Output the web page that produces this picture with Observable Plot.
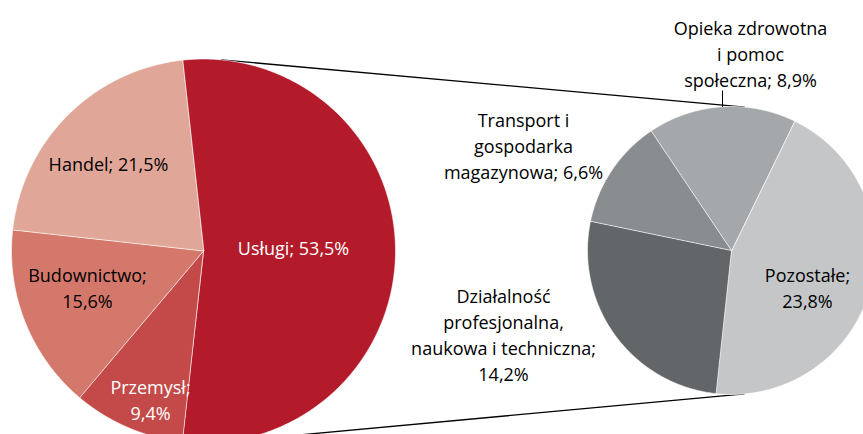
<!DOCTYPE html>
<html>
<head>
<meta charset="utf-8">
<script src="https://cdn.jsdelivr.net/npm/d3@7"></script>
<script src="https://cdn.jsdelivr.net/npm/@observablehq/plot@0.6"></script>
<style>
  html, body { margin: 0; padding: 0; background: #fff; }
  #chart { width: 863px; height: 434px; overflow: hidden; }
</style>
</head>
<body>
<div id="chart"></div>
<script>
// ---- DATA ----
const mainCategories = ["Usługi", "Przemysł", "Budownictwo", "Handel"];
const mainValues = [53.5, 9.4, 15.6, 21.5];
const mainColors = ["#B31B2B", "#C34A48", "#D4786C", "#E0A698"];

const subCategories = ["Pozostałe", "Działalność profesjonalna, naukowa i techniczna", "Transport i gospodarka magazynowa", "Opieka zdrowotna i pomoc społeczna"];
const subValues = [23.8, 14.2, 6.6, 8.9];
const subColors = ["#C4C6C8", "#626669", "#8A8D8F", "#A5A8AA"];

// label text layout (line breaks) for each category
const mainLabelLines = [["Usługi; {v}"], ["Przemysł;", "{v}"], ["Budownictwo;", "{v}"], ["Handel; {v}"]];
const subLabelLines = [["Pozostałe;", "{v}"], ["Działalność", "profesjonalna,", "naukowa i techniczna;", "{v}"], ["Transport i", "gospodarka", "magazynowa; {v}"], ["Opieka zdrowotna", "i pomoc", "społeczna; {v}"]];

// ---- LAYOUT ----
const W = 863, H = 434;
const pieA = {cx: 203, cy: 250.5, r: 192};
const pieB = {cx: 731, cy: 250, r: 144};
const mainStart = 90 - (mainValues[0] / d3.sum(mainValues)) * 360 / 2; // degrees, clockwise from top
const subStart = 26;
const mainLabelOffsets = [[90, -4], [-53, 148], [-116, 36], [-95, -88]];
const mainLabelFill = ["white", "white", "black", "black"];
const subLabelOffsets = [[76, 36], [-228, 83], [-208, -106], [19, -198]];
const leader = {dx: -9, yTop: 90};
const fontSize = 18, lineGap = 26;

const fmt = v => v.toFixed(1).replace(".", ",") + "%";
const rad = d => d * Math.PI / 180;

function slices(names, values, colors, pie, start) {
  const total = d3.sum(values);
  const pts = [];
  let a = start;
  names.forEach((n, i) => {
    const sweep = values[i] / total * 360;
    const steps = Math.max(2, Math.ceil(sweep / 0.5));
    pts.push({name: n, color: colors[i], x: pie.cx, y: pie.cy});
    for (let k = 0; k <= steps; k++) {
      const t = rad(a + sweep * k / steps);
      pts.push({name: n, color: colors[i], x: pie.cx + pie.r * Math.sin(t), y: pie.cy - pie.r * Math.cos(t)});
    }
    a += sweep;
  });
  return pts;
}

function labels(names, values, lines, offsets, fills, pie) {
  return names.map((n, i) => ({
    name: n,
    text: lines[i].map(s => s.replace("{v}", fmt(values[i]))).join("\n"),
    x: pie.cx + offsets[i][0],
    y: pie.cy + offsets[i][1],
    fill: fills ? fills[i] : "black"
  }));
}

// exterior tangent lines between the two pies
const dx = pieB.cx - pieA.cx, dy = pieB.cy - pieA.cy, D = Math.hypot(dx, dy);
const ux = dx / D, uy = dy / D;
const alpha = Math.acos((pieA.r - pieB.r) / D);
const tangents = [-1, 1].map(s => {
  const nx = ux * Math.cos(alpha) - s * uy * Math.sin(alpha) * -1;
  const ny = uy * Math.cos(alpha) + s * ux * Math.sin(alpha);
  return {x1: pieA.cx + pieA.r * nx, y1: pieA.cy + pieA.r * ny, x2: pieB.cx + pieB.r * nx, y2: pieB.cy + pieB.r * ny};
});

const lx = pieB.cx + leader.dx;
const leaderLine = [{x1: lx, y1: leader.yTop, x2: lx, y2: pieB.cy - Math.sqrt(pieB.r ** 2 - leader.dx ** 2)}];

const allNames = mainCategories.concat(subCategories);
const allColors = mainColors.concat(subColors);

const chart = Plot.plot({
  width: W, height: H,
  margin: 0,
  x: {domain: [0, W], axis: null},
  y: {domain: [H, 0], axis: null},
  color: {domain: allNames, range: allColors},
  style: {fontFamily: "'Open Sans', sans-serif", background: "white", overflow: "hidden"},
  marks: [
    Plot.link(tangents, {x1: "x1", y1: "y1", x2: "x2", y2: "y2", stroke: "black", strokeWidth: 1.3}),
    Plot.line(slices(mainCategories, mainValues, mainColors, pieA, mainStart), {x: "x", y: "y", z: "name", fill: "name", stroke: "white", strokeWidth: 0.6, curve: "linear-closed"}),
    Plot.line(slices(subCategories, subValues, subColors, pieB, subStart), {x: "x", y: "y", z: "name", fill: "name", stroke: "white", strokeWidth: 0.6, curve: "linear-closed"}),
    Plot.link(leaderLine, {x1: "x1", y1: "y1", x2: "x2", y2: "y2", stroke: "black", strokeWidth: 1}),
    Plot.text(labels(mainCategories, mainValues, mainLabelLines, mainLabelOffsets, mainLabelFill, pieA), {x: "x", y: "y", text: "text", fill: d => d.fill, fontSize, lineHeight: lineGap / fontSize, textAnchor: "middle"}),
    Plot.text(labels(subCategories, subValues, subLabelLines, subLabelOffsets, null, pieB), {x: "x", y: "y", text: "text", fill: "black", fontSize, lineHeight: lineGap / fontSize, textAnchor: "middle"})
  ]
});
document.getElementById("chart").appendChild(chart);
</script>
</body>
</html>
